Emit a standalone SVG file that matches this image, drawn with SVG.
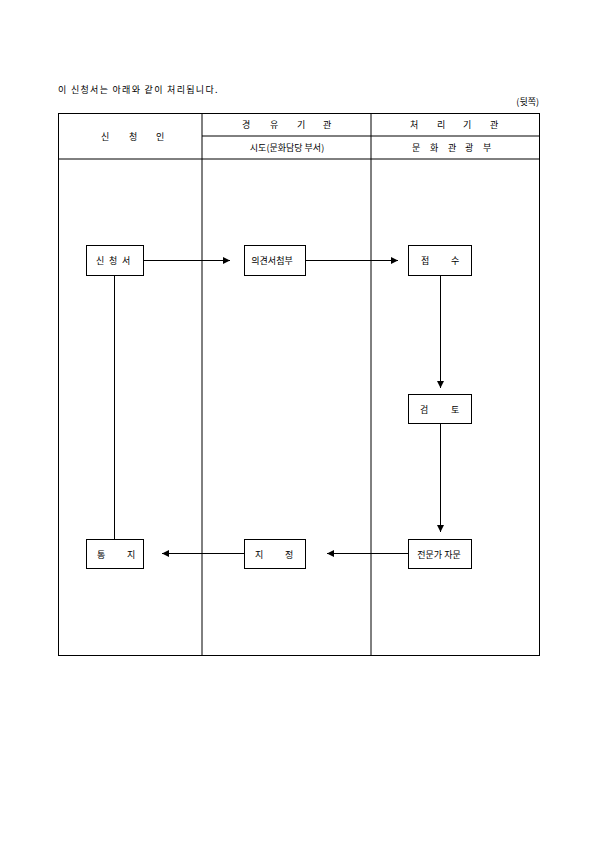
<svg xmlns="http://www.w3.org/2000/svg" width="595" height="842" viewBox="0 0 595 842">
<defs>
<style>
text{font-family:"Noto Sans CJK KR","Noto Sans",sans-serif;font-size:9px;fill:#000}
.c{text-anchor:middle}
.ln{stroke:#000;stroke-width:1;fill:none}
.box{stroke:#000;stroke-width:1;fill:#fff}
</style>
<marker id="ah" viewBox="0 0 10 10" refX="10" refY="5" markerWidth="7" markerHeight="7" markerUnits="userSpaceOnUse" orient="auto">
<path d="M0,0 L10,5 L0,10 Z" fill="#000"/>
</marker>
</defs>
<rect width="595" height="842" fill="#fff"/>
<text x="58" y="93" letter-spacing="1.3">이 신청서는 아래와 같이 처리됩니다.</text>
<text x="539" y="105" text-anchor="end">(뒷쪽)</text>
<g id="table">
<rect x="58.5" y="113.5" width="481" height="542" class="ln"/>
<line x1="202" y1="113.5" x2="202" y2="655.5" class="ln"/>
<line x1="371" y1="113.5" x2="371" y2="655.5" class="ln"/>
<line x1="202" y1="136" x2="539.5" y2="136" class="ln"/>
<line x1="58.5" y1="159" x2="539.5" y2="159" class="ln"/>
<text y="140"><tspan x="101">신</tspan> <tspan x="129">청</tspan> <tspan x="156">인</tspan></text>
<text y="128"><tspan x="242">경</tspan> <tspan x="270">유</tspan> <tspan x="297">기</tspan> <tspan x="323">관</tspan></text>
<text y="128"><tspan x="410">처</tspan> <tspan x="437">리</tspan> <tspan x="463">기</tspan> <tspan x="490">관</tspan></text>
<text class="c" x="287" y="151">시도(문화담당 부서)</text>
<text y="151"><tspan x="412">문</tspan> <tspan x="430">화</tspan> <tspan x="448">관</tspan> <tspan x="465">광</tspan> <tspan x="483">부</tspan></text>
</g>
<g id="connectors">
<line x1="143" y1="260.5" x2="230" y2="260.5" class="ln" marker-end="url(#ah)"/>
<line x1="305" y1="260.5" x2="398" y2="260.5" class="ln" marker-end="url(#ah)"/>
<line x1="440.5" y1="275" x2="440.5" y2="388" class="ln" marker-end="url(#ah)"/>
<line x1="440.5" y1="423" x2="440.5" y2="532" class="ln" marker-end="url(#ah)"/>
<line x1="408" y1="553.5" x2="327" y2="553.5" class="ln" marker-end="url(#ah)"/>
<line x1="244" y1="553.5" x2="162" y2="553.5" class="ln" marker-end="url(#ah)"/>
<line x1="114.5" y1="275" x2="114.5" y2="539" class="ln"/>
</g>
<g id="n1"><rect x="86.5" y="245.5" width="57" height="30" class="box"/><text y="264"><tspan x="96">신</tspan> <tspan x="109">청</tspan> <tspan x="122">서</tspan></text></g>
<g id="n2"><rect x="244.5" y="245.5" width="61" height="30" class="box"/><text class="c" x="272" y="264">의견서첨부</text></g>
<g id="n3"><rect x="408.5" y="245.5" width="63" height="30" class="box"/><text y="264"><tspan x="421">접</tspan> <tspan x="451">수</tspan></text></g>
<g id="n4"><rect x="408.5" y="394.5" width="63" height="29" class="box"/><text y="413"><tspan x="420">검</tspan> <tspan x="451">토</tspan></text></g>
<g id="n5"><rect x="408.5" y="539.5" width="63" height="29" class="box"/><text class="c" x="439" y="558">전문가 자문</text></g>
<g id="n6"><rect x="244.5" y="539.5" width="61" height="29" class="box"/><text y="558"><tspan x="255">지</tspan> <tspan x="285">정</tspan></text></g>
<g id="n7"><rect x="86.5" y="539.5" width="57" height="29" class="box"/><text y="558"><tspan x="97">통</tspan> <tspan x="127">지</tspan></text></g>
</svg>
